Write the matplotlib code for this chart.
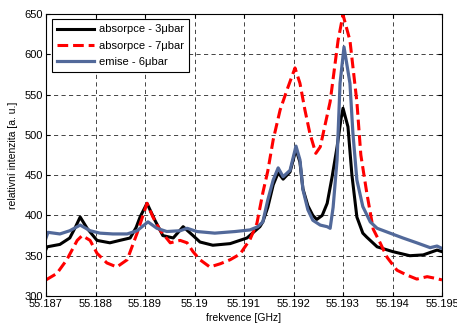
import matplotlib
matplotlib.use("Agg")
import matplotlib.pyplot as plt
from matplotlib.ticker import FuncFormatter

plt.rcParams['font.family'] = ['Liberation Sans', 'DejaVu Sans']

# absorpce - 3ubar
f_abs3 = [55.18700, 55.18702, 55.18728, 55.18748, 55.18759, 55.18769, 55.18783, 55.18803,
          55.18829, 55.18849, 55.18870, 55.18882, 55.18890, 55.18904, 55.18920, 55.18936,
          55.18957, 55.18977, 55.18997, 55.19011, 55.19037, 55.19072, 55.19106, 55.19132,
          55.19138, 55.19148, 55.19159, 55.19169, 55.19179, 55.19193, 55.19205, 55.19213,
          55.19219, 55.19229, 55.19239, 55.19247, 55.19258, 55.19268, 55.19278, 55.19288,
          55.19296, 55.19300, 55.19310, 55.19318, 55.19328, 55.19340, 55.19348, 55.19369,
          55.19401, 55.19435, 55.19462, 55.19490, 55.19500]
i_abs3 = [358, 361, 364, 372, 385, 398, 384, 369,
          366, 369, 372, 385, 398, 415, 394, 375,
          372, 386, 375, 367, 363, 365, 372, 386,
          392, 410, 438, 453, 445, 454, 482, 466,
          433, 412, 400, 395, 400, 415, 448, 485,
          520, 533, 510, 450, 398, 378, 373, 361,
          355, 350, 351, 357, 355]

# absorpce - 7ubar
f_abs7 = [55.18700, 55.18722, 55.18742, 55.18763, 55.18773, 55.18789, 55.18803, 55.18823,
          55.18843, 55.18864, 55.18884, 55.18904, 55.18916, 55.18930, 55.18951, 55.18971,
          55.18985, 55.18997, 55.19011, 55.19031, 55.19052, 55.19072, 55.19092, 55.19112,
          55.19126, 55.19138, 55.19148, 55.19159, 55.19173, 55.19187, 55.19203, 55.19213,
          55.19223, 55.19233, 55.19245, 55.19254, 55.19274, 55.19290, 55.19300, 55.19314,
          55.19328, 55.19336, 55.19348, 55.19361, 55.19375, 55.19389, 55.19409, 55.19429,
          55.19449, 55.19470, 55.19486, 55.19500]
i_abs7 = [320, 328, 345, 369, 375, 369, 353, 341,
          336, 345, 378, 415, 398, 382, 366, 369,
          366, 355, 345, 336, 340, 345, 352, 370,
          390, 428, 455, 494, 531, 556, 583, 564,
          531, 502, 477, 485, 541, 617, 649, 617,
          541, 475, 428, 383, 366, 348, 332, 326,
          321, 324, 322, 320]

# emise - 6ubar
f_em6 = [55.18700, 55.18704, 55.18728, 55.18748, 55.18769, 55.18789, 55.18809, 55.18835,
         55.18864, 55.18884, 55.18906, 55.18924, 55.18944, 55.18971, 55.18985, 55.19005,
         55.19041, 55.19082, 55.19112, 55.19128, 55.19138, 55.19148, 55.19159, 55.19169,
         55.19179, 55.19193, 55.19205, 55.19213, 55.19219, 55.19229, 55.19239, 55.19254,
         55.19268, 55.19274, 55.19280, 55.19288, 55.19294, 55.19302, 55.19314, 55.19320,
         55.19328, 55.19340, 55.19355, 55.19369, 55.19395, 55.19421, 55.19449, 55.19476,
         55.19490, 55.19500]
i_em6 = [372, 379, 377, 381, 388, 381, 378, 377,
         377, 381, 392, 384, 380, 381, 384, 380,
         378, 380, 382, 386, 392, 419, 444, 459,
         448, 456, 486, 469, 432, 407, 394, 388,
         386, 384, 410, 469, 564, 609, 564, 502,
         444, 411, 392, 384, 378, 372, 366, 360,
         362, 359]

fig = plt.figure(figsize=(4.57, 3.24), dpi=100)
ax = fig.add_axes([0.1007, 0.0864, 0.8665, 0.8706])

ax.plot(f_abs3, i_abs3, color='black', lw=2.2, label='absorpce - 3μbar')
ax.plot(f_abs7, i_abs7, color='#ff0000', lw=2.2, dashes=(3.5, 1.6), label='absorpce - 7μbar')
ax.plot(f_em6, i_em6, color='#52699a', lw=2.3, label='emise - 6μbar')

ax.set_xlim(55.187, 55.195)
ax.set_ylim(300, 650)
ax.set_xticks([55.187 + 0.001 * k for k in range(9)])
ax.set_yticks(range(300, 651, 50))
ax.xaxis.set_major_formatter(FuncFormatter(lambda v, p: '%g' % round(v, 3)))
ax.tick_params(direction='in', top=True, right=True, length=3, labelsize=8, pad=2)
ax.grid(True, color='0.15', lw=0.6, dashes=(5, 4))
for s in ax.spines.values():
    s.set_linewidth(0.8)

ax.set_xlabel('frekvence [GHz]', fontsize=7.5, labelpad=3)
ax.set_ylabel('relativní intenzita [a. u.]', fontsize=7.5, labelpad=5)

leg = ax.legend(loc='upper left', fontsize=8, handlelength=3.4, handletextpad=0.4,
                borderpad=0.45, labelspacing=0.55, fancybox=False, framealpha=1,
                borderaxespad=0.5)
leg.get_frame().set_edgecolor('black')
leg.get_frame().set_linewidth(0.8)

fig.savefig('out.png', dpi=100)
